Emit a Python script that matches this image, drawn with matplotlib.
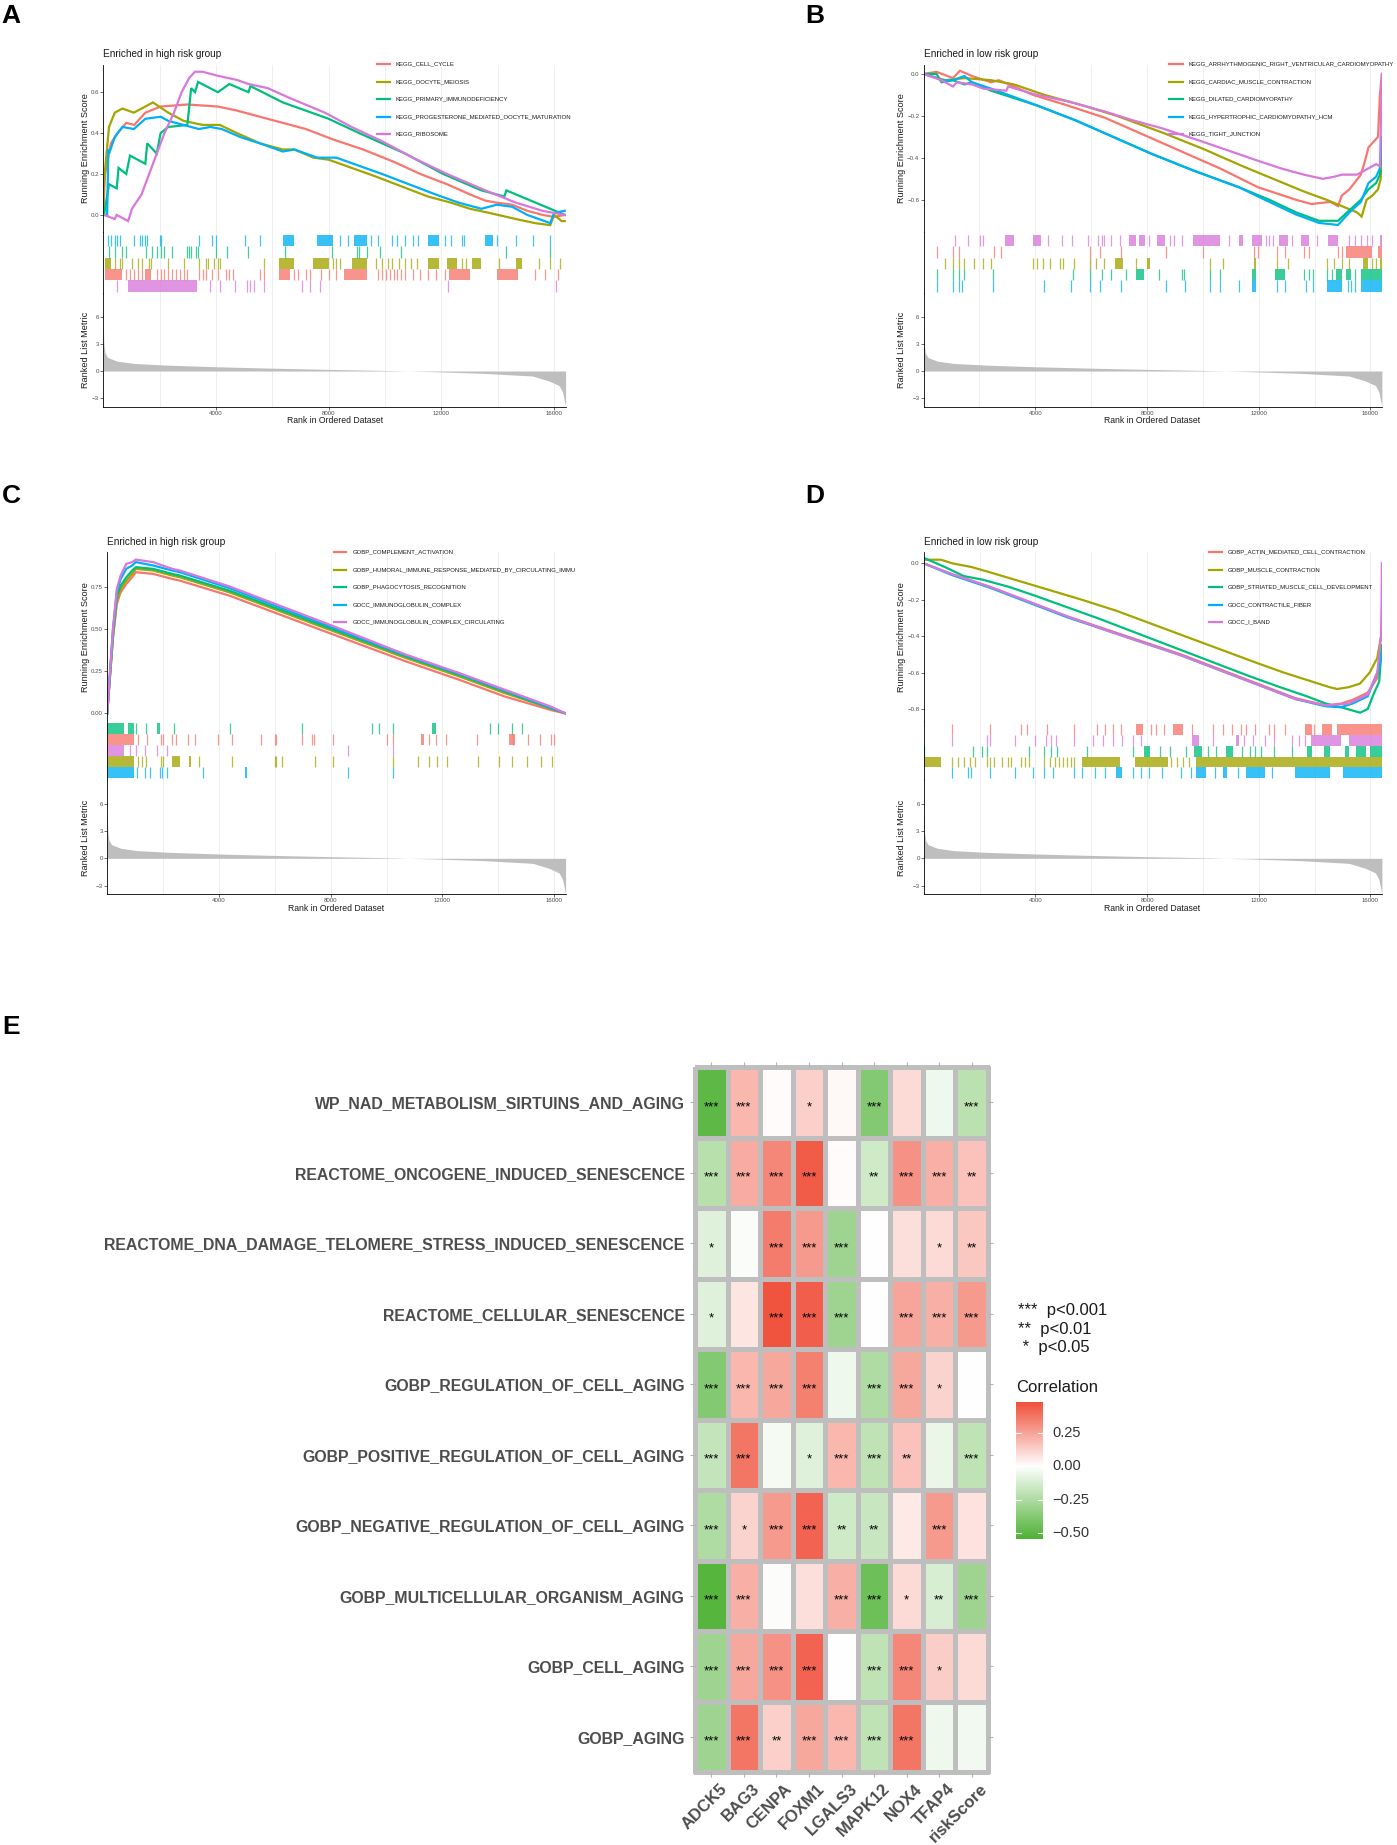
import matplotlib
matplotlib.use("Agg")
import matplotlib.pyplot as plt
import numpy as np
from matplotlib.colors import LinearSegmentedColormap, Normalize
from matplotlib.lines import Line2D

plt.rcParams['font.family'] = ['Liberation Sans', 'DejaVu Sans']

# ---------------------------------------------------------------- data
N_GENES = 16410
SET_COLORS = ['#F8766D', '#A3A500', '#00BF7D', '#00B0F6', '#D877DC']

# ranked list metric (shared by all four GSEA panels)
metric_rank = [0, 5, 20, 60, 150, 484, 1074, 2254, 4024, 5794, 7976, 9923, 11693, 13463,
               15233, 15823, 16177, 16300, 16354, 16410]
metric_val = [6.0, 4.5, 3.0, 2.0, 1.5, 1.1, 0.84, 0.65, 0.47, 0.33, 0.18, 0.07, -0.07, -0.25,
              -0.55, -1.1, -1.6, -2.3, -3.1, -3.9]

# ---- panel A
A_sets = ["KEGG_CELL_CYCLE", "KEGG_OOCYTE_MEIOSIS", "KEGG_PRIMARY_IMMUNODEFICIENCY",
          "KEGG_PROGESTERONE_MEDIATED_OOCYTE_MATURATION", "KEGG_RIBOSOME"]
A_es_x = [
    [0, 60, 271, 500, 814, 1100, 1492, 2034, 2983, 4068, 4746, 5831, 6644, 7187, 8136, 9221,
     10306, 11255, 12204, 13018, 13560, 13967, 14509, 15052, 15594, 16001, 16380],
    [0, 15, 203, 407, 678, 1085, 1492, 1763, 2305, 2848, 3526, 4136, 4746, 5560, 6373, 6780,
     7458, 8000, 8814, 9628, 10577, 11526, 12340, 13018, 13696, 14645, 15323, 15865, 16001, 16272, 16380],
    [0, 27, 203, 475, 542, 814, 949, 1492, 1559, 1898, 2034, 2305, 2983, 3119, 3254, 3363,
     4068, 4475, 5153, 5221, 6373, 8000, 9085, 10713, 12068, 13424, 14238, 14306, 15865, 16380],
    [0, 136, 180, 203, 407, 678, 1085, 1492, 2034, 2305, 2848, 3390, 3797, 4204, 4882, 5560,
     6373, 6780, 7594, 8272, 9085, 9899, 10848, 11797, 12611, 13424, 13967, 14509, 15052, 15458,
     15865, 16001, 16380],
    [0, 27, 407, 475, 881, 1017, 1356, 1627, 1898, 2170, 2509, 2780, 3051, 3254, 3526, 4068,
     4746, 5153, 5831, 6644, 7865, 8814, 9899, 10984, 12204, 13560, 14645, 15594, 16380],
]
A_es_y = [
    [0, 0.2, 0.35, 0.4, 0.45, 0.44, 0.5, 0.53, 0.54, 0.53, 0.51, 0.47, 0.44, 0.42, 0.37, 0.32,
     0.26, 0.2, 0.15, 0.1, 0.07, 0.06, 0.05, 0.02, 0.0, -0.01, 0.0],
    [0, 0.15, 0.43, 0.5, 0.52, 0.5, 0.53, 0.55, 0.5, 0.46, 0.44, 0.44, 0.4, 0.35, 0.32, 0.32,
     0.28, 0.27, 0.23, 0.19, 0.14, 0.09, 0.06, 0.03, 0.01, -0.02, -0.04, -0.05, 0.0, -0.03, -0.03],
    [0, 0.0, 0.15, 0.13, 0.23, 0.2, 0.29, 0.25, 0.35, 0.3, 0.4, 0.43, 0.44, 0.62, 0.6, 0.65,
     0.6, 0.64, 0.6, 0.63, 0.55, 0.47, 0.4, 0.3, 0.2, 0.12, 0.09, 0.12, 0.03, 0.0],
    [0, 0.0, 0.32, 0.3, 0.38, 0.43, 0.42, 0.47, 0.48, 0.46, 0.44, 0.42, 0.43, 0.42, 0.38, 0.35,
     0.31, 0.32, 0.28, 0.28, 0.24, 0.2, 0.15, 0.1, 0.06, 0.03, 0.05, 0.04, 0.0, -0.02,
     -0.04, 0.01, 0.02],
    [0, 0.0, -0.02, 0.0, -0.03, 0.03, 0.1, 0.2, 0.3, 0.4, 0.5, 0.6, 0.67, 0.7, 0.7, 0.68,
     0.66, 0.64, 0.62, 0.57, 0.5, 0.43, 0.36, 0.28, 0.2, 0.12, 0.06, 0.02, 0.0],
]
A_hits = [
    [814, 949, 1085, 1220, 1356, 1898, 2034, 2170, 2305, 2441, 2576, 2712, 2848, 2983, 3390, 3526,
     3661, 3865, 4068, 4339, 4475, 4610, 5560, 5695, 6780, 6916, 7187, 7322, 7729, 8000, 8272,
     9763, 9899, 10034, 10170, 10306, 10441, 10577, 10712, 10984, 11255, 11526, 11797, 12136,
     15323, 15662, 16136],
    [407, 610, 678, 1017, 1220, 1356, 1627, 1695, 2305, 2848, 3390, 3661, 3729, 3932, 4068, 4136,
     5695, 8136, 8272, 8407, 9695, 9899, 10102, 10238, 10509, 10712, 10916, 11119, 12746, 12882,
     14035, 15458, 15865, 16204],
    [203, 407, 678, 814, 1519, 1736, 1898, 2034, 2170, 2441, 2983, 3051, 3119, 3281, 3363, 4000,
     4407, 5153, 6441, 8109, 9017, 9085, 9356, 9831, 10577, 14306, 15865],
    [163, 271, 407, 475, 610, 1085, 1288, 1383, 1492, 1559, 2007, 2034, 3390, 3865, 4000, 5017,
     5560, 8407, 8678, 9492, 9763, 10238, 10441, 10712, 10984, 11187, 12136, 12340, 12746, 12814,
     13967, 14645, 15255, 15865],
    [475, 3797, 4136, 4678, 5085, 5221, 5356, 5695, 7051, 7322, 7702, 12231, 16069],
]
A_blocks = [
    [(68, 678), (1492, 1695), (6237, 6644), (8543, 9356), (12272, 13018), (13967, 14713)],
    [(68, 271), (6237, 6780), (7458, 8000), (8814, 9356), (11526, 11933), (12204, 12543),
     (13086, 13424), (14645, 14848)],
    [],
    [(6373, 6780), (7594, 8163), (8882, 9356), (11526, 11933), (13560, 13831)],
    [(881, 3322)],
]
A_rug_order = [3, 2, 1, 0, 4]

# ---- panel B
B_sets = ["KEGG_ARRHYTHMOGENIC_RIGHT_VENTRICULAR_CARDIOMYOPATHY", "KEGG_CARDIAC_MUSCLE_CONTRACTION",
          "KEGG_DILATED_CARDIOMYOPATHY", "KEGG_HYPERTROPHIC_CARDIOMYOPATHY_HCM", "KEGG_TIGHT_JUNCTION"]
B_es_x = [
    [0, 464, 1051, 1297, 1734, 2416, 2689, 3235, 3918, 5146, 6511, 7876, 9241, 10606, 11971,
     12654, 13336, 13882, 14565, 14838, 14974, 15247, 15657, 15793, 15930, 16271, 16339, 16410],
    [0, 778, 1461, 2416, 3235, 4327, 5692, 6921, 8559, 10060, 11425, 12517, 13609, 14428, 14974,
     15520, 15684, 15861, 16066, 16271, 16366, 16400, 16410],
    [0, 464, 642, 1051, 1461, 1734, 2416, 4054, 5419, 6784, 8149, 9651, 11289, 12381, 13336,
     14155, 14838, 15247, 15657, 15930, 16203, 16339, 16410],
    [0, 464, 642, 1051, 1461, 1734, 2416, 4054, 5419, 6784, 8149, 9651, 11289, 12381, 13336,
     14155, 14838, 15247, 15657, 15930, 16203, 16339, 16410],
    [0, 642, 1051, 1188, 1734, 2143, 2962, 3030, 4054, 5146, 6511, 7467, 8559, 9924, 11016,
     12108, 12790, 13609, 14292, 14701, 14974, 15520, 15930, 16203, 16339, 16380, 16410],
]
B_es_y = [
    [0, 0.01, -0.02, 0.015, -0.01, -0.04, -0.03, -0.06, -0.1, -0.15, -0.21, -0.29, -0.37, -0.45,
     -0.54, -0.57, -0.6, -0.62, -0.61, -0.63, -0.58, -0.55, -0.48, -0.42, -0.35, -0.3, -0.1, 0.0],
    [0, -0.03, -0.02, -0.03, -0.05, -0.1, -0.15, -0.2, -0.28, -0.36, -0.44, -0.5, -0.56, -0.6,
     -0.63, -0.66, -0.68, -0.6, -0.58, -0.55, -0.5, -0.4, -0.35],
    [0, 0.0, -0.04, -0.03, -0.05, -0.04, -0.08, -0.15, -0.22, -0.3, -0.38, -0.46, -0.54, -0.6,
     -0.66, -0.7, -0.7, -0.65, -0.6, -0.55, -0.52, -0.48, -0.3],
    [0, -0.02, -0.03, -0.03, -0.01, -0.04, -0.07, -0.15, -0.22, -0.3, -0.38, -0.46, -0.54, -0.61,
     -0.67, -0.71, -0.72, -0.66, -0.61, -0.52, -0.49, -0.45, -0.31],
    [0, -0.03, -0.06, -0.04, -0.05, -0.07, -0.08, -0.06, -0.1, -0.13, -0.18, -0.22, -0.26, -0.32,
     -0.37, -0.42, -0.45, -0.48, -0.5, -0.49, -0.48, -0.48, -0.45, -0.43, -0.44, -0.2, 0.0],
]
B_hits = [
    [464, 1051, 1256, 2525, 2757, 5965, 6306, 7084, 8695, 9992, 11835, 11971, 12654, 12927, 13609,
     13814, 14838, 14974],
    [778, 1051, 1256, 1433, 1802, 2143, 2416, 3918, 4054, 4259, 4532, 4873, 4982, 5392, 5965, 6170,
     6443, 7603, 10238, 10715, 12654, 13063, 14428, 14701, 14974, 15220, 16066, 16203],
    [464, 1051, 1256, 1433, 2484, 5351, 5965, 6375, 6716, 7235, 8422, 9241, 9309, 10265, 10606,
     13609, 13814, 13950, 14428, 14633, 15452],
    [464, 1051, 1256, 1392, 2484, 4327, 5283, 5965, 6306, 7057, 8695, 9350, 10265, 10606, 11289,
     12654, 12927, 13677, 13950, 15179, 15316, 15452],
    [1119, 1597, 2007, 2143, 4464, 4941, 5310, 5897, 6238, 6375, 6443, 6716, 7030, 8081, 8832,
     8968, 9241, 10947, 12244, 12381, 12517, 13200, 14087, 15247, 15452, 15657, 15861, 16066],
]
B_blocks = [
    [(15111, 16066), (16271, 16410)],
    [(6852, 7125), (8013, 8095), (11835, 11903), (15725, 15930), (16339, 16410)],
    [(7603, 7876), (11766, 11903), (12585, 12927), (14769, 14974), (15111, 15316), (15657, 16410)],
    [(11766, 11903), (14428, 14974), (15657, 16410)],
    [(2921, 3235), (3918, 4191), (7357, 7603), (7712, 7944), (8354, 8627), (9651, 10606),
     (11289, 11425), (11766, 12108), (12722, 13063), (13500, 13814), (14496, 14838), (16339, 16410)],
]
B_rug_order = [4, 0, 1, 2, 3]

# ---- panel C
C_sets = ["GOBP_COMPLEMENT_ACTIVATION", "GOBP_HUMORAL_IMMUNE_RESPONSE_MEDIATED_BY_CIRCULATING_IMMU",
          "GOBP_PHAGOCYTOSIS_RECOGNITION", "GOCC_IMMUNOGLOBULIN_COMPLEX",
          "GOCC_IMMUNOGLOBULIN_COMPLEX_CIRCULATING"]
C_rank_pts = [0, 206, 343, 480, 685, 891, 1028, 1644, 2329, 2603, 4384, 8083, 10686, 12604,
              14248, 15892, 16410]
C_es_y = [
    [0, 0.45, 0.65, 0.72, 0.77, 0.81, 0.84, 0.83, 0.8, 0.79, 0.7, 0.47, 0.31, 0.2, 0.1, 0.02, 0.0],
    [0, 0.45, 0.67, 0.74, 0.79, 0.83, 0.86, 0.85, 0.82, 0.81, 0.72, 0.49, 0.33, 0.22, 0.12, 0.03, 0.0],
    [0, 0.47, 0.7, 0.76, 0.81, 0.85, 0.87, 0.86, 0.83, 0.82, 0.73, 0.5, 0.34, 0.23, 0.13, 0.03, 0.0],
    [0, 0.5, 0.72, 0.8, 0.86, 0.88, 0.9, 0.88, 0.85, 0.84, 0.745, 0.51, 0.345, 0.235, 0.135, 0.035, 0.0],
    [0, 0.5, 0.74, 0.82, 0.89, 0.9, 0.915, 0.9, 0.86, 0.85, 0.755, 0.52, 0.35, 0.24, 0.14, 0.04, 0.0],
]
C_hits = [
    [1096, 1439, 1918, 1987, 2329, 2466, 2877, 3151, 3973, 4453, 5521, 6001, 6028, 6987, 7330,
     7398, 8083, 10028, 10234, 11508, 11782, 12125, 13248, 14522, 15070, 15508, 15892, 15988],
    [1096, 1260, 1397, 1918, 1987, 3288, 4453, 6001, 6055, 6247, 7425, 8083, 10234, 11124, 11508,
     11823, 12152, 13262, 14015, 14481, 15043, 15522, 15919],
    [1028, 1397, 2398, 4384, 6987, 9480, 9727, 10234, 13700, 13974, 14495, 14865],
    [1069, 1343, 1548, 1891, 1959, 2151, 3425, 8631, 10234],
    [822, 1028, 1370, 1781, 2151, 8631, 10234],
]
C_blocks = [
    [(0, 959), (11234, 11343), (14385, 14591)],
    [(0, 959), (2329, 2603), (2932, 3014)],
    [(0, 616), (754, 959), (1781, 1890), (11645, 11782)],
    [(0, 959), (4932, 5001)],
    [(0, 616)],
]
C_rug_order = [2, 0, 4, 1, 3]

# ---- panel D
D_sets = ["GOBP_ACTIN_MEDIATED_CELL_CONTRACTION", "GOBP_MUSCLE_CONTRACTION",
          "GOBP_STRIATED_MUSCLE_CELL_DEVELOPMENT", "GOCC_CONTRACTILE_FIBER", "GOCC_I_BAND"]
D_es_x = [
    [0, 1024, 2389, 3754, 5119, 6484, 7849, 9214, 10579, 11944, 13309, 14401, 14947, 15356, 15902,
     16244, 16380, 16410],
    [0, 614, 1024, 1706, 2389, 3481, 4573, 5665, 6893, 8122, 9350, 10579, 11807, 12899, 13718,
     14537, 14810, 15220, 15629, 15971, 16244, 16380, 16410],
    [0, 751, 1433, 2116, 3071, 4027, 5119, 6211, 7576, 8941, 10306, 11671, 12763, 13718, 14401,
     14947, 15629, 15902, 16107, 16312, 16410],
    [0, 1024, 2389, 3754, 5119, 6484, 7849, 9214, 10579, 11944, 13309, 14401, 14947, 15356, 15902,
     16244, 16380, 16410],
    [0, 1024, 2389, 3754, 5119, 6484, 7849, 9214, 10579, 11944, 13309, 14401, 15220, 15902, 16244,
     16380, 16400, 16410],
]
D_es_y = [
    [0.0, -0.06, -0.13, -0.21, -0.29, -0.36, -0.43, -0.5, -0.58, -0.66, -0.74, -0.78, -0.77, -0.75,
     -0.71, -0.63, -0.5, -0.45],
    [0.02, 0.02, 0.0, -0.02, -0.05, -0.1, -0.15, -0.2, -0.26, -0.33, -0.4, -0.47, -0.54, -0.6,
     -0.64, -0.68, -0.69, -0.68, -0.66, -0.6, -0.52, -0.4, -0.35],
    [0.03, -0.02, -0.07, -0.09, -0.13, -0.18, -0.24, -0.3, -0.38, -0.46, -0.54, -0.62, -0.68,
     -0.73, -0.77, -0.79, -0.82, -0.8, -0.72, -0.65, -0.45],
    [0.0, -0.065, -0.135, -0.215, -0.295, -0.365, -0.435, -0.505, -0.585, -0.665, -0.745, -0.785,
     -0.79, -0.77, -0.73, -0.6, -0.52, -0.5],
    [0.0, -0.06, -0.13, -0.21, -0.29, -0.365, -0.435, -0.505, -0.585, -0.665, -0.745, -0.78, -0.77,
     -0.72, -0.6, -0.4, -0.2, 0.0],
]
D_hits = [
    [1024, 2389, 3481, 3686, 4409, 5364, 6211, 6484, 6784, 7071, 8122, 8327, 8600, 9623, 10347,
     10715, 11057, 11371, 11534, 11848, 12353, 12558, 12940, 13855, 13991],
    [1024, 1229, 1433, 1638, 1843, 2252, 2389, 2525, 2798, 3003, 3140, 3481, 3617, 3754, 4300,
     4505, 4709, 4846, 4982, 5119, 5283, 5392, 8873, 9077, 9282, 9487],
    [0, 1775, 2088, 2252, 3754, 4300, 4573, 4778, 5829, 7480, 8463, 8804, 9378, 10169, 10483,
     11398, 11671, 11876, 12080, 12558, 13172],
    [1024, 1570, 1706, 2389, 3276, 3918, 4300, 4641, 5364, 5665, 6143, 6484, 7508, 7781, 8054,
     8532, 9214, 9555, 10442, 11262, 12490],
    [1024, 2252, 2389, 3276, 3999, 4368, 4573, 4750, 5364, 6074, 6416, 6784, 7098, 7508, 7781,
     10374, 11466, 11807, 12217, 12558, 13172, 13445, 13650],
]
D_blocks = [
    [(7617, 7862), (8941, 9282), (13650, 13855), (14264, 14633), (14810, 16410)],
    [(0, 614), (5665, 7030), (7576, 8736), (9760, 16410)],
    [(7890, 8095), (9692, 9965), (10824, 11070), (13718, 13923), (14333, 14537), (15083, 15220),
     (15493, 15834), (15971, 16410)],
    [(6893, 7098), (9760, 10101), (10715, 10851), (11535, 12217), (13309, 14537), (15015, 16410)],
    [(9609, 9869), (11193, 11302), (13855, 14947), (15220, 16410)],
]
D_rug_order = [0, 4, 2, 1, 3]

# ---- panel E (heatmap)
E_rows = ["WP_NAD_METABOLISM_SIRTUINS_AND_AGING", "REACTOME_ONCOGENE_INDUCED_SENESCENCE",
          "REACTOME_DNA_DAMAGE_TELOMERE_STRESS_INDUCED_SENESCENCE", "REACTOME_CELLULAR_SENESCENCE",
          "GOBP_REGULATION_OF_CELL_AGING", "GOBP_POSITIVE_REGULATION_OF_CELL_AGING",
          "GOBP_NEGATIVE_REGULATION_OF_CELL_AGING", "GOBP_MULTICELLULAR_ORGANISM_AGING",
          "GOBP_CELL_AGING", "GOBP_AGING"]
E_cols = ["ADCK5", "BAG3", "CENPA", "FOXM1", "LGALS3", "MAPK12", "NOX4", "TFAP4", "riskScore"]
E_corr = [
    [-0.50, 0.20, 0.01, 0.13, 0.02, -0.38, 0.10, -0.05, -0.21],
    [-0.22, 0.23, 0.33, 0.45, 0.01, -0.15, 0.30, 0.22, 0.17],
    [-0.10, -0.02, 0.36, 0.28, -0.30, 0.00, 0.09, 0.10, 0.15],
    [-0.10, 0.07, 0.47, 0.44, -0.30, 0.00, 0.25, 0.22, 0.28],
    [-0.38, 0.20, 0.24, 0.35, -0.05, -0.25, 0.24, 0.12, 0.00],
    [-0.18, 0.38, -0.03, -0.10, 0.20, -0.20, 0.17, -0.06, -0.20],
    [-0.25, 0.12, 0.28, 0.43, -0.15, -0.17, 0.06, 0.28, 0.08],
    [-0.52, 0.22, -0.01, 0.09, 0.22, -0.45, 0.10, -0.12, -0.30],
    [-0.30, 0.24, 0.30, 0.43, 0.00, -0.20, 0.33, 0.14, 0.10],
    [-0.30, 0.38, 0.13, 0.24, 0.20, -0.20, 0.38, -0.05, -0.04],
]
E_stars = [
    ["***", "***", "", "*", "", "***", "", "", "***"],
    ["***", "***", "***", "***", "", "**", "***", "***", "**"],
    ["*", "", "***", "***", "***", "", "", "*", "**"],
    ["*", "", "***", "***", "***", "", "***", "***", "***"],
    ["***", "***", "***", "***", "", "***", "***", "*", ""],
    ["***", "***", "", "*", "***", "***", "**", "", "***"],
    ["***", "*", "***", "***", "**", "**", "", "***", ""],
    ["***", "***", "", "", "***", "***", "*", "**", "***"],
    ["***", "***", "***", "***", "", "***", "***", "*", ""],
    ["***", "***", "**", "***", "***", "***", "***", "", ""],
]
E_lim_low, E_lim_high = -0.545, 0.483
E_cbar_ticks = [0.25, 0.0, -0.25, -0.50]
E_pvalue_legend = ["***  p<0.001", "**  p<0.01", " *  p<0.05"]

# ---------------------------------------------------------------- figure
W, H = 1397, 1845
fig = plt.figure(figsize=(W / 100, H / 100), dpi=100)


def add_ax(l, t, r, b):
    return fig.add_axes([l / W, 1 - b / H, (r - l) / W, (b - t) / H])


def ftext(x, y, s, **kw):
    return fig.text(x / W, 1 - y / H, s, **kw)


def fline(x1, x2, y, **kw):
    fig.add_artist(Line2D([x1 / W, x2 / W], [1 - y / H, 1 - y / H],
                          transform=fig.transFigure, **kw))


TICK_FS = 4.4
GREY30 = '#4D4D4D'


def style_axis(ax):
    ax.set_xlim(0, N_GENES)
    for g in range(2000, 16001, 2000):
        ax.axvline(g, color='#EBEBEB', lw=0.6, zorder=0)
    for s in ('top', 'right', 'bottom'):
        ax.spines[s].set_visible(False)
    ax.spines['left'].set_linewidth(0.6)
    ax.set_xticks([])
    ax.tick_params(axis='y', length=2, width=0.5, color='#333333', pad=1,
                   labelsize=TICK_FS, labelcolor=GREY30)
    ax.set_facecolor('none')


def gsea_panel(geom, sets, es_x, es_y, hits, blocks, rug_order, title, ylim, yticks,
               yticklabels, leg, labels_pos):
    l, r, t1, b1, b2, b3 = geom
    ax1 = add_ax(l, t1, r, b1)
    ax2 = add_ax(l, b1, r, b2)
    ax3 = add_ax(l, b2, r, b3)
    for ax in (ax1, ax2, ax3):
        style_axis(ax)
    # running enrichment score
    for i in range(len(sets)):
        ax1.plot(es_x[i], es_y[i], color=SET_COLORS[i], lw=1.6, solid_joinstyle='miter')
    ax1.set_ylim(*ylim)
    ax1.set_yticks(yticks)
    ax1.set_yticklabels(yticklabels)
    # rug
    n = len(sets)
    for k, idx in enumerate(rug_order):
        y0 = n - 1 - k
        ax2.vlines(hits[idx], y0, y0 + 1, colors=SET_COLORS[idx], lw=0.9, alpha=0.75)
        if blocks[idx]:
            ax2.broken_barh([(s, e - s) for s, e in blocks[idx]], (y0, 1),
                            facecolors=SET_COLORS[idx], lw=0, alpha=0.78)
    ax2.set_ylim(-0.1, n + 0.3)
    ax2.set_yticks([])
    # ranked list metric
    ax3.fill_between(metric_rank, metric_val, 0, color='#BEBEBE', lw=0)
    ax3.set_ylim(-3.94, 8.65)
    ax3.set_yticks([-3, 0, 3, 6])
    ax3.set_yticklabels(['\u22123', '0', '3', '6'])
    ax3.spines['bottom'].set_visible(True)
    ax3.spines['bottom'].set_linewidth(0.6)
    ax3.set_xticks([4000, 8000, 12000, 16000])
    ax3.tick_params(axis='x', length=2, width=0.5, color='#333333', pad=1,
                    labelsize=TICK_FS, labelcolor=GREY30)
    # texts
    tx, ty, ylx, yly1, yly2, xlx, xly = labels_pos
    ftext(tx, ty, title, fontsize=7.2, ha='left', va='center', color='#1A1A1A')
    ftext(ylx, yly1, 'Running Enrichment Score', rotation=90, fontsize=6.6,
          ha='center', va='center', color='#1A1A1A')
    ftext(ylx, yly2, 'Ranked List Metric', rotation=90, fontsize=6.6,
          ha='center', va='center', color='#1A1A1A')
    ftext(xlx, xly, 'Rank in Ordered Dataset', fontsize=6.2, ha='center', va='center',
          color='#1A1A1A')
    # legend
    lx1, lx2, ltx, lys = leg
    for i, name in enumerate(sets):
        fline(lx1, lx2, lys[i], color=SET_COLORS[i], lw=1.6)
        ftext(ltx, lys[i], name, fontsize=4.3, ha='left', va='center', color='#1A1A1A')


def fmt(v, nd):
    s = f'{v:.{nd}f}'
    return s.replace('-', '\u2212')


LEG_Y_TOP = [64.3, 82.0, 99.3, 117.0, 133.7]
LEG_Y_BOT = [552.3, 570.0, 587.3, 605.0, 621.7]

# Panel A
gsea_panel((103.3, 565.6, 65.0, 231.7, 292.7, 406.7), A_sets, A_es_x, A_es_y, A_hits, A_blocks,
           A_rug_order, 'Enriched in high risk group', (-0.082, 0.733),
           [0.0, 0.2, 0.4, 0.6], [fmt(v, 1) for v in [0.0, 0.2, 0.4, 0.6]],
           (377, 390, 396, LEG_Y_TOP),
           (103.3, 54, 85, 148, 350, 335, 420.7))
# Panel B
gsea_panel((923.6, 1381.9, 65.0, 231.7, 292.7, 406.7), B_sets, B_es_x, B_es_y, B_hits, B_blocks,
           B_rug_order, 'Enriched in low risk group', (-0.752, 0.0425),
           [0.0, -0.2, -0.4, -0.6], [fmt(v, 1) for v in [0.0, -0.2, -0.4, -0.6]],
           (1169.4, 1182.7, 1188.4, LEG_Y_TOP),
           (923.8, 54, 901, 148, 350, 1152, 420.7))
# Panel C
C_es_x = [C_rank_pts] * 5
gsea_panel((107.2, 565.6, 551.7, 720.0, 779.3, 894.3), C_sets, C_es_x, C_es_y, C_hits, C_blocks,
           C_rug_order, 'Enriched in high risk group', (-0.039, 0.962),
           [0.0, 0.25, 0.5, 0.75], [fmt(v, 2) for v in [0.0, 0.25, 0.5, 0.75]],
           (333.7, 346.3, 352.8, LEG_Y_BOT),
           (107.2, 542.3, 85, 636.7, 838.3, 336, 908.3))
# Panel D
gsea_panel((923.8, 1381.9, 551.7, 720.7, 779.3, 894.3), D_sets, D_es_x, D_es_y, D_hits, D_blocks,
           D_rug_order, 'Enriched in low risk group', (-0.864, 0.064),
           [0.0, -0.2, -0.4, -0.6, -0.8], [fmt(v, 1) for v in [0.0, -0.2, -0.4, -0.6, -0.8]],
           (1208.6, 1222.0, 1227.3, LEG_Y_BOT),
           (923.8, 542.3, 901, 636.7, 838.3, 1152, 908.3))

# panel letters
for letter, (x, y) in zip("ABCDE", [(11, 16), (815, 16), (11, 496), (815, 496), (11, 1027)]):
    ftext(x, y, letter, fontsize=19, fontweight='bold', ha='center', va='center', color='black')

# ---------------------------------------------------------------- heatmap
cmap = LinearSegmentedColormap.from_list('g2', ['#4FB235', '#FFFFFF', '#EE3A22'])
norm = Normalize(E_lim_low, -E_lim_low)
axh = add_ax(695, 1067, 988, 1772)
corr = np.array(E_corr)
nr, nc = corr.shape
mesh = axh.pcolormesh(np.arange(nc + 1), np.arange(nr + 1), corr, cmap=cmap, norm=norm,
                      edgecolors='#BEBEBE', linewidth=2.4)
mesh.set_clip_on(False)
axh.set_xlim(0, nc)
axh.set_ylim(nr, 0)
for s in axh.spines.values():
    s.set_visible(False)
for i in range(nr):
    for j in range(nc):
        if E_stars[i][j]:
            axh.text(j + 0.5, i + 0.5 + 0.11, E_stars[i][j], ha='center', va='baseline',
                     fontsize=9.5, color='black')
axh.set_yticks(np.arange(nr) + 0.5)
axh.set_yticklabels(E_rows, fontsize=11.45, fontweight='bold', color=GREY30)
axh.set_xticks(np.arange(nc) + 0.5)
axh.set_xticklabels([])
axh.tick_params(axis='both', length=3.5, width=0.8, color='#B3B3B3', pad=4,
                top=True, right=True)
for j, c in enumerate(E_cols):
    axh.text(j + 0.5 + 0.25, nr + 0.13, c, rotation=45, rotation_mode='anchor', ha='right',
             va='top', fontsize=12, fontweight='bold', color=GREY30, clip_on=False)

# p-value legend
for k, (s, yb) in enumerate(zip(E_pvalue_legend, [1315, 1334, 1352])):
    ftext(1018, yb, s, fontsize=12, ha='left', va='baseline', color='#1A1A1A')

ftext(1016, 1387, 'Correlation', fontsize=12, ha='left', va='center', color='#1A1A1A')
axc = add_ax(1016, 1402, 1043, 1539)
grad = np.linspace(E_lim_high, E_lim_low, 256).reshape(-1, 1)
axc.imshow(grad, aspect='auto', cmap=cmap, norm=norm,
           extent=[0, 1, E_lim_low, E_lim_high])
axc.set_xlim(0, 1)
axc.set_ylim(E_lim_low, E_lim_high)
axc.set_xticks([])
axc.set_yticks([])
for s in axc.spines.values():
    s.set_visible(False)
for v in E_cbar_ticks:
    axc.plot([0, 0.2], [v, v], color='white', lw=0.8)
    axc.plot([0.8, 1.0], [v, v], color='white', lw=0.8)
    axc.text(1.33, v, fmt(v, 2), transform=axc.get_yaxis_transform(), ha='left',
             va='center', fontsize=10.5, color='#333333')

fig.savefig('out.png', dpi=100, facecolor='white')
